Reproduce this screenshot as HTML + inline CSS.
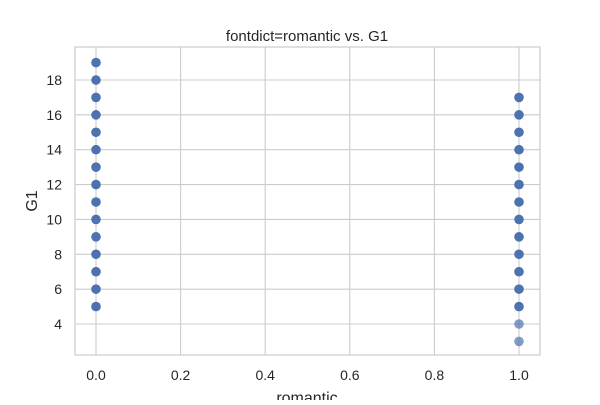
<!DOCTYPE html>
<html><head><meta charset="utf-8"><style>
body{margin:0;background:#fff;}
svg{font-family:"Liberation Sans","DejaVu Sans",sans-serif;}
</style></head><body>
<svg id="chart" width="600" height="400" viewBox="0 0 600 400">
<rect x="75" y="47" width="465" height="308" fill="#fff" stroke="#ccc" stroke-width="1.2"/>
<g id="grid"></g>
<g id="pts"></g>
<g id="ticks"></g>
<text x="307" y="41" text-anchor="middle" font-size="15" fill="#262626">fontdict=romantic vs. G1</text>
<text x="307" y="403" text-anchor="middle" font-size="16" fill="#262626">romantic</text>
<text transform="translate(37,201) rotate(-90)" text-anchor="middle" font-size="16" fill="#262626">G1</text>
</svg>
<script>
const romanticCats=[0,1];
const g1ZeroVals=[5,6,7,8,9,10,11,12,13,14,15,16,17,18,19];
const g1OneVals=[3,4,5,6,7,8,9,10,11,12,13,14,15,16,17];
const g1OneAlpha=[0.7,0.7,1,1,1,1,1,1,1,1,1,1,1,1,1];
const xTicks=[0,0.2,0.4,0.6,0.8,1.0];
const yTicks=[4,6,8,10,12,14,16,18];
const NS="http://www.w3.org/2000/svg";
const xs=v=>96+v*(519-96);
const ys=v=>80+(18-v)*(244/14);
const grid=document.getElementById('grid'),pts=document.getElementById('pts'),tk=document.getElementById('ticks');
function mk(tag,at,par){const e=document.createElementNS(NS,tag);for(const k in at)e.setAttribute(k,at[k]);par.appendChild(e);return e;}
xTicks.forEach(t=>{
 const l=mk('line',{x1:xs(t),x2:xs(t),y1:47,y2:355,stroke:'#ccc','stroke-width':1.1},grid);
 
 
 const tx=mk('text',{x:xs(t),y:380,'text-anchor':'middle','font-size':14,fill:'#262626'},tk);
 tx.textContent=t.toFixed(1);
 
 
});
yTicks.forEach(t=>{
 const l=mk('line',{x1:75,x2:540,y1:ys(t),y2:ys(t),stroke:'#ccc','stroke-width':1.1},grid);
 
 
 const tx=mk('text',{x:62,y:ys(t)+5,'text-anchor':'end','font-size':14,fill:'#262626'},tk);
 tx.textContent=t;
 
 
});
g1ZeroVals.forEach(v=>{
 const c=mk('circle',{cx:xs(romanticCats[0]),cy:ys(v),r:4.8,fill:'#4c72b0'},pts);
 
 
});
g1OneVals.forEach((v,i)=>{
 const c=mk('circle',{cx:xs(romanticCats[1]),cy:ys(v),r:4.8,fill:'#4c72b0','fill-opacity':g1OneAlpha[i]},pts);
 
 
});
</script>
</body></html>
